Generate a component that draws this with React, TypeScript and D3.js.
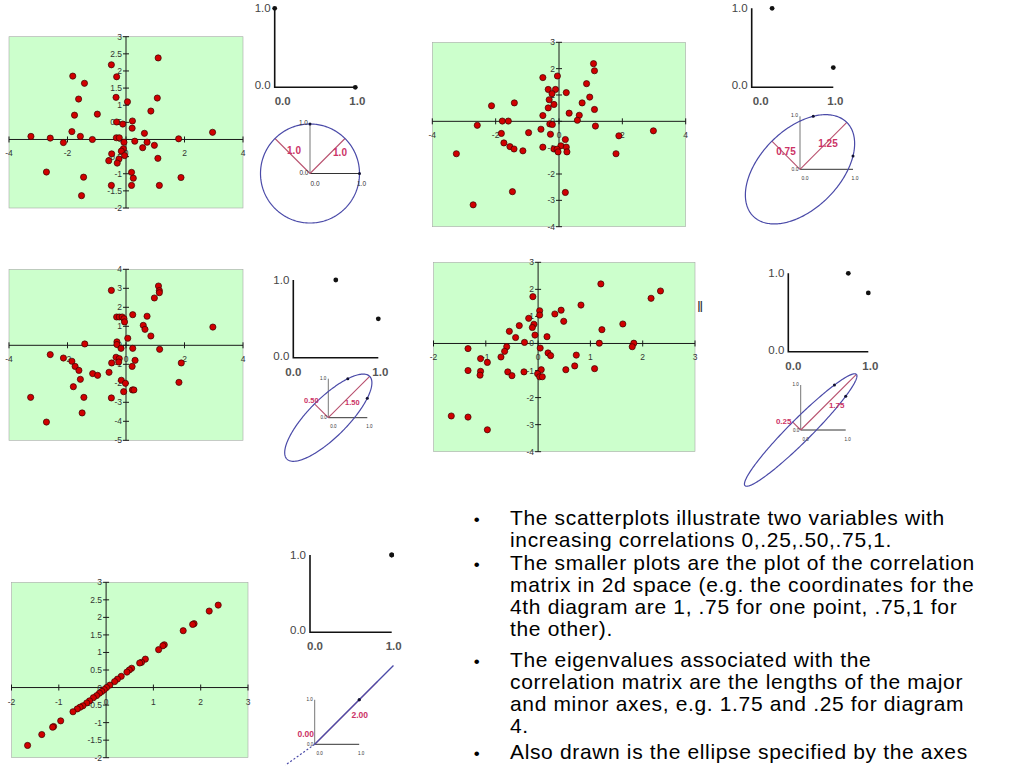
import React from 'react';
import * as d3 from 'd3';

// scatter data (x, y)
const scatterR0: [number, number][] = [
  [1.1, 2.38], [-0.5, 2.18], [-1.82, 1.85], [-0.32, 1.83], [-1.42, 1.64], [-1.62, 1.18],
  [-0.34, 1.23], [1.07, 1.21], [0.05, 1.1], [0.85, 0.83], [-1.76, 0.71], [-0.98, 0.74],
  [-0.32, 0.51], [-0.11, 0.45], [0.22, 0.54], [0.21, 0.33], [-1.85, 0.23], [0.63, 0.18],
  [2.96, 0.21], [-3.25, 0.09], [-2.59, 0.04], [-1.56, 0.09], [-1.15, 0.0], [-2.14, -0.09],
  [-0.33, 0.05], [-0.23, 0.05], [-0.07, -0.08], [0.3, -0.05], [0.72, -0.08], [0.97, -0.17],
  [0.57, -0.24], [1.8, 0.02], [-0.09, -0.27], [-0.16, -0.34], [-0.05, -0.47], [-0.49, -0.42],
  [-0.24, -0.57], [-0.59, -0.62], [-0.3, -0.69], [1.09, -0.55], [-2.72, -0.95], [0.19, -0.96],
  [0.25, -1.13], [-1.45, -1.1], [1.88, -1.11], [-0.5, -1.34], [0.19, -1.34], [1.14, -1.34],
  [-1.52, -1.64],
];

const scatterR25: [number, number][] = [
  [1.09, 2.19], [1.12, 1.92], [-0.51, 1.66], [-0.05, 1.72], [0.87, 1.43], [-0.34, 1.21],
  [-0.11, 1.21], [-0.22, 1.05], [0.23, 1.09], [0.97, 0.92], [-0.31, 0.82], [-1.41, 0.7],
  [0.73, 0.7], [-0.16, 0.64], [-2.13, 0.59], [-0.34, 0.51], [1.12, 0.45], [0.32, 0.31],
  [0.64, 0.23], [-0.51, 0.22], [0.58, 0.04], [-1.79, 0.01], [-1.6, 0.01], [-0.29, -0.1],
  [-0.21, -0.12], [-2.58, -0.15], [1.15, -0.18], [2.98, -0.36], [-0.57, -0.3], [-0.96, -0.43],
  [-1.82, -0.46], [-0.27, -0.49], [1.89, -0.55], [0.2, -0.69], [-1.74, -0.82], [0.06, -0.93],
  [-1.55, -0.96], [-1.42, -1.05], [0.23, -0.98], [-0.51, -0.98], [-0.16, -1.05], [-0.06, -1.06],
  [-1.14, -1.12], [-0.03, -1.16], [0.25, -1.16], [-3.24, -1.23], [1.8, -1.23], [-1.47, -2.67],
  [0.2, -2.7], [-2.71, -3.17],
];

const scatterR50: [number, number][] = [
  [1.11, 3.12], [1.14, 2.88], [1.14, 2.77], [-0.5, 2.89], [0.97, 2.49], [0.23, 1.61],
  [-0.32, 1.49], [-0.23, 1.49], [-0.13, 1.49], [-0.07, 1.4], [-0.05, 1.23], [0.72, 1.53],
  [0.59, 1.05], [0.65, 0.84], [0.85, 0.49], [0.06, 0.37], [-1.41, 0.07], [-0.31, 0.18],
  [-0.31, 0.04], [-0.17, -0.16], [0.23, -0.16], [1.15, -0.21], [-2.59, -0.49], [-2.14, -0.67],
  [-1.85, -0.84], [-0.34, -0.63], [-0.23, -0.7], [0.31, -0.79], [-0.49, -0.93], [-0.25, -0.88],
  [-1.74, -1.11], [0.21, -1.11], [-1.61, -1.32], [-1.14, -1.49], [-0.97, -1.58], [-0.58, -1.42],
  [1.89, -0.93], [-1.56, -1.79], [-0.16, -1.84], [-0.02, -2.0], [1.81, -1.95], [-1.8, -2.18],
  [-0.08, -2.44], [0.22, -2.35], [0.27, -2.35], [-3.26, -2.74], [-1.44, -2.74], [-0.5, -2.77],
  [-1.5, -3.56], [-2.72, -4.04], [2.97, 0.96],
];

const scatterR75: [number, number][] = [
  [1.2, 2.2], [2.34, 1.94], [2.16, 1.67], [-0.1, 1.73], [0.82, 1.42], [0.03, 1.21],
  [0.44, 1.23], [0.03, 1.05], [0.32, 1.09], [-0.18, 0.93], [0.49, 0.82], [1.62, 0.72],
  [-0.36, 0.66], [-0.08, 0.71], [-0.11, 0.59], [1.22, 0.51], [-0.55, 0.45], [-0.43, 0.22],
  [-0.06, 0.31], [0.17, 0.25], [-0.26, 0.04], [1.17, 0.01], [1.83, 0.01], [1.8, -0.12],
  [-1.34, -0.19], [-0.6, -0.12], [0.04, -0.17], [-0.64, -0.29], [0.19, -0.35], [0.24, -0.45],
  [0.73, -0.43], [-0.71, -0.5], [-1.1, -0.56], [-0.97, -0.7], [-1.34, -1.0], [-1.1, -1.03],
  [-1.11, -1.17], [-0.58, -1.05], [-0.5, -1.19], [-0.27, -1.05], [0.06, -0.97], [0.53, -0.97],
  [0.7, -0.83], [1.08, -0.93], [-0.01, -1.12], [0.03, -1.23], [0.08, -1.23], [-1.66, -2.68],
  [-1.34, -2.72], [-0.97, -3.19],
];

const scatterR100: [number, number][] = [
  [2.37, 2.35], [2.18, 2.18], [1.86, 1.82], [1.83, 1.8], [1.63, 1.62], [1.23, 1.22],
  [1.2, 1.19], [1.11, 1.08], [0.83, 0.81], [0.75, 0.72], [0.71, 0.7], [0.54, 0.55],
  [0.49, 0.5], [0.44, 0.44], [0.32, 0.32], [0.24, 0.24], [0.18, 0.17], [0.08, 0.07],
  [0.01, 0.0], [-0.04, -0.06], [-0.09, -0.11], [-0.14, -0.16], [-0.2, -0.23], [-0.27, -0.29],
  [-0.35, -0.38], [-0.41, -0.44], [-0.49, -0.52], [-0.55, -0.56], [-0.61, -0.61], [-0.7, -0.69],
  [-0.96, -0.95], [-1.11, -1.11], [-1.13, -1.13], [-1.36, -1.34], [-1.66, -1.65],
];

// correlation of each diagram and the axis lengths printed on the ellipses
const correlations = [0, 0.25, 0.5, 0.75, 1];
const majorLabels = ['1.0', '1.25', '1.50', '1.75', '2.00'];
const minorLabels = ['1.0', '0.75', '0.50', '0.25', '0.00'];

// tick values
const ticksX4 = [-4, -2, 0, 2, 4];
const ticksX3 = [-2, -1, 0, 1, 2, 3];
const ticksHalf = [-2, -1.5, -1, -0.5, 0, 0.5, 1, 1.5, 2, 2.5, 3];
const ticksY43 = [-4, -3, -2, -1, 0, 1, 2, 3];
const ticksY54 = [-5, -4, -3, -2, -1, 0, 1, 2, 3, 4];

// degenerate ellipse of the last diagram (units of the small axes)
const lineSolidEnd = [1.77, 1.77];
const lineDashedEnd = [-0.66, -0.47];

const bullets = [
  ['The scatterplots illustrate two variables with', 'increasing correlations 0,.25,.50,.75,1.'],
  [
    'The smaller plots are the plot of the correlation',
    'matrix in 2d space (e.g. the coordinates for the',
    '4th diagram are 1, .75 for one point, .75,1 for',
    'the other).',
  ],
  [
    'The eigenvalues associated with the',
    'correlation matrix are the lengths of the major',
    'and minor axes, e.g. 1.75 and .25 for diagram',
    '4.',
  ],
  ['Also drawn is the ellipse specified by the axes'],
];

const FONT = '"Liberation Sans", Arial, sans-serif';

const scatterLayout = [
  { data: scatterR0, x0: 9, x1: 243, y0: 36.7, y1: 208, xd: [-4, 4], yd: [-2, 3], xt: ticksX4, yt: ticksHalf },
  { data: scatterR25, x0: 432.3, x1: 685.7, y0: 42.3, y1: 226.7, xd: [-4, 4], yd: [-4, 3], xt: ticksX4, yt: ticksY43 },
  { data: scatterR50, x0: 9, x1: 243, y0: 269.3, y1: 440.3, xd: [-4, 4], yd: [-5, 4], xt: ticksX4, yt: ticksY54 },
  { data: scatterR75, x0: 433.5, x1: 695, y0: 262.3, y1: 451.7, xd: [-2, 3], yd: [-4, 3], xt: ticksX3, yt: ticksY43 },
  { data: scatterR100, x0: 11.5, x1: 248, y0: 582.3, y1: 757.7, xd: [-2, 3], yd: [-2, 3], xt: ticksX3, yt: ticksHalf },
];

const corrLayout = [
  { ox: 274.7, oy: 87.3, ux: 80.6, uy: 79, lx: 8 },
  { ox: 751.7, oy: 87.3, ux: 81.6, uy: 79, lx: 9 },
  { ox: 293.3, oy: 357.7, ux: 85, uy: 77.7, lx: 0 },
  { ox: 788.3, oy: 351.7, ux: 80, uy: 78.4, lx: 5 },
  { ox: 310, oy: 632.3, ux: 81.7, uy: 77.3, lx: 5 },
];

const ellipseLayout = [
  { ox: 310, oy: 173.5, unit: 49.5, fs: 10, afs: 6.5, minorAt: [-16, -20], majorAt: [30, -18] },
  { ox: 800, oy: 169.3, unit: 53, fs: 10, afs: 5, minorAt: [-14, -14], majorAt: [28, -22] },
  { ox: 328.3, oy: 417.7, unit: 39, fs: 7.5, afs: 4.5, minorAt: [-17, -15], majorAt: [24, -13] },
  { ox: 800.7, oy: 430, unit: 45, fs: 8, afs: 4.5, minorAt: [-17, -6], majorAt: [36, -22] },
  { ox: 314.7, oy: 744.3, unit: 44.5, fs: 8.5, afs: 4.5, minorAt: [-9, -7], majorAt: [45, -26] },
];

const Scatter = ({ cfg }: { cfg: typeof scatterLayout[number] }) => {
  const x = d3.scaleLinear().domain(cfg.xd).range([cfg.x0, cfg.x1]);
  const y = d3.scaleLinear().domain(cfg.yd).range([cfg.y1, cfg.y0]);
  const ax = x(0);
  const ay = y(0);
  return (
    <g fontFamily={FONT} fontSize={8.5} fill="#333">
      <rect x={cfg.x0} y={cfg.y0} width={cfg.x1 - cfg.x0} height={cfg.y1 - cfg.y0} fill="#ccffcc" stroke="#a8a8a8" strokeWidth={0.6} />
      <line x1={cfg.x0} x2={cfg.x1} y1={ay} y2={ay} stroke="#1a1a1a" strokeWidth={1} />
      <line x1={ax} x2={ax} y1={cfg.y0} y2={cfg.y1} stroke="#1a1a1a" strokeWidth={1} />
      {cfg.xt.map(t => (
        <g key={'x' + t}>
          <line x1={x(t)} x2={x(t)} y1={ay - 3} y2={ay + 3} stroke="#1a1a1a" />
          <text x={x(t)} y={ay + 17} textAnchor="middle">{String(t)}</text>
        </g>
      ))}
      {cfg.yt.map(t => (
        <g key={'y' + t}>
          <line x1={ax - 3} x2={ax + 3} y1={y(t)} y2={y(t)} stroke="#1a1a1a" />
          <text x={ax - 4} y={y(t) + 3} textAnchor="end">{String(t)}</text>
        </g>
      ))}
      {cfg.data.map((d, i) => (
        <circle key={i} cx={x(d[0])} cy={y(d[1])} r={3.1} fill="#d00000" stroke="#3a0000" strokeWidth={0.7} />
      ))}
    </g>
  );
};

const CorrPlot = ({ cfg, r }: { cfg: typeof corrLayout[number]; r: number }) => {
  const x = d3.scaleLinear().domain([0, 1]).range([cfg.ox, cfg.ox + cfg.ux]);
  const y = d3.scaleLinear().domain([0, 1]).range([cfg.oy, cfg.oy - cfg.uy]);
  const pts = [[1, r], [r, 1]];
  return (
    <g fontFamily={FONT} fontSize={11.5}>
      <path d={`M${x(0)},${y(1)}V${y(0)}H${x(1)}`} fill="none" stroke="#111" strokeWidth={1.6} />
      {pts.map((p, i) => (
        <circle key={i} cx={x(p[0])} cy={y(p[1])} r={2.4} fill="#111" />
      ))}
      <text x={x(0) - 4} y={y(1) + 4} textAnchor="end" fill="#444">1.0</text>
      <text x={x(0) - 4} y={y(0) + 2} textAnchor="end" fill="#444">0.0</text>
      <text x={x(0) + cfg.lx} y={y(0) + 18} textAnchor="middle" fill="#555" fontWeight="bold">0.0</text>
      <text x={x(1) + 2} y={y(0) + 18} textAnchor="middle" fill="#555" fontWeight="bold">1.0</text>
    </g>
  );
};

const EllipsePlot = ({ cfg, r, major, minor }: { cfg: typeof ellipseLayout[number]; r: number; major: string; minor: string }) => {
  const x = d3.scaleLinear().domain([0, 1]).range([cfg.ox, cfg.ox + cfg.unit]);
  const y = d3.scaleLinear().domain([0, 1]).range([cfg.oy, cfg.oy - cfg.unit]);
  const l1 = +major;
  const l2 = +minor;
  const s = Math.SQRT1_2;
  const angles = d3.range(0, 2 * Math.PI + 0.001, Math.PI / 120);
  const ellipse = d3
    .line<number>()
    .x(t => x((l1 * Math.cos(t) - l2 * Math.sin(t)) * s))
    .y(t => y((l1 * Math.cos(t) + l2 * Math.sin(t)) * s))(angles);
  const pts = [[1, r], [r, 1]];
  const blue = '#4a4aa8';
  const pink = '#b8506e';
  return (
    <g fontFamily={FONT}>
      <line x1={x(0)} y1={y(0)} x2={x(0)} y2={y(1)} stroke="#777" strokeWidth={1} />
      <line x1={x(0)} y1={y(0)} x2={x(1)} y2={y(0)} stroke="#333" strokeWidth={1} />
      {l2 > 0 && <line x1={x(0)} y1={y(0)} x2={x(-l2 * s)} y2={y(l2 * s)} stroke={pink} strokeWidth={1.1} />}
      <line x1={x(0)} y1={y(0)} x2={x(l1 * s)} y2={y(l1 * s)} stroke={pink} strokeWidth={1.1} />
      {l2 > 0 ? (
        <path d={ellipse || ''} fill="none" stroke={blue} strokeWidth={1.2} />
      ) : (
        <g>
          <line x1={x(0)} y1={y(0)} x2={x(lineSolidEnd[0])} y2={y(lineSolidEnd[1])} stroke={blue} strokeWidth={1.3} />
          <line x1={x(0)} y1={y(0)} x2={x(lineDashedEnd[0])} y2={y(lineDashedEnd[1])} stroke={blue} strokeWidth={1.2} strokeDasharray="2,2" />
        </g>
      )}
      {pts.map((p, i) => (
        <circle key={i} cx={x(p[0])} cy={y(p[1])} r={1.5} fill="#111133" />
      ))}
      <g fontSize={cfg.afs} fill="#333">
        <text x={x(0) - 2} y={y(1) + 1} textAnchor="end">1.0</text>
        <text x={x(0) - 1.5} y={y(0) + 1.5} textAnchor="end">0.0</text>
        <text x={x(0) + 5} y={y(0) + cfg.afs + 6} textAnchor="middle">0.0</text>
        <text x={x(1) + 2} y={y(0) + cfg.afs + 6} textAnchor="middle">1.0</text>
      </g>
      <g fontSize={cfg.fs} fill="#cc3366" fontWeight="bold">
        <text x={cfg.ox + cfg.minorAt[0]} y={cfg.oy + cfg.minorAt[1]} textAnchor="middle">{minor}</text>
        <text x={cfg.ox + cfg.majorAt[0]} y={cfg.oy + cfg.majorAt[1]} textAnchor="middle">{major}</text>
      </g>
    </g>
  );
};

const paraStart = [525, 570, 667, 759];

export default function App() {
  return (
    <svg width={1024} height={768} style={{ position: 'absolute', left: 0, top: 0, background: '#fff' }}>
      {scatterLayout.map((cfg, i) => (
        <Scatter key={i} cfg={cfg} />
      ))}
      {corrLayout.map((cfg, i) => (
        <CorrPlot key={i} cfg={cfg} r={correlations[i]} />
      ))}
      {ellipseLayout.map((cfg, i) => (
        <EllipsePlot key={i} cfg={cfg} r={correlations[i]} major={majorLabels[i]} minor={minorLabels[i]} />
      ))}
      <text x={697} y={312} fontFamily={FONT} fontSize={15} fill="#333">‖</text>
      <g fontFamily={FONT} fontSize={21} fill="#000" letterSpacing={0.65}>
        {bullets.map((lines, i) => (
          <g key={i}>
            <text x={477} y={paraStart[i]} textAnchor="middle" fontSize={17}>•</text>
            {lines.map((ln, j) => (
              <text key={j} x={510} y={paraStart[i] + j * 22}>{ln}</text>
            ))}
          </g>
        ))}
      </g>
    </svg>
  );
}
